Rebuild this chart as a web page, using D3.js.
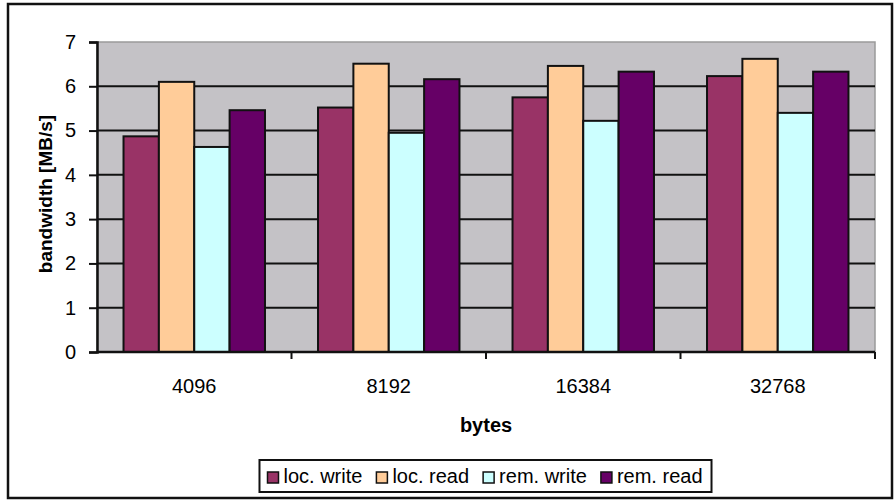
<!DOCTYPE html>
<html>
<head>
<meta charset="utf-8">
<script src="https://cdn.jsdelivr.net/npm/d3@7"></script>
<style>
  html, body { margin: 0; padding: 0; background: #fff; }
  svg text { font-family: "Liberation Sans", Arial, sans-serif; fill: #000; }
</style>
</head>
<body>
<svg id="chart" width="894" height="501"></svg>
<script>
// Transfer sizes (bytes) on the x axis
const categories = ["4096", "8192", "16384", "32768"];
// Series names and their bandwidth values in MB/s
const seriesNames = ["loc. write", "loc. read", "rem. write", "rem. read"];
const locWrite = [4.87, 5.52, 5.75, 6.23];
const locRead  = [6.10, 6.51, 6.46, 6.62];
const remWrite = [4.63, 4.95, 5.22, 5.40];
const remRead  = [5.46, 6.16, 6.33, 6.33];
const yTicks = [0, 1, 2, 3, 4, 5, 6, 7];
const colors = ["#993366", "#ffcc99", "#ccffff", "#660066"];

const seriesValues = [locWrite, locRead, remWrite, remRead];

const svg = d3.select("#chart");
const plot = { left: 97, right: 875, top: 42, bottom: 352 };

// Outer chart frame
svg.append("rect")
  .attr("x", 8).attr("y", 4)
  .attr("width", 884).attr("height", 494)
  .attr("fill", "#fff").attr("stroke", "#111").attr("stroke-width", 2.5);

const x0 = d3.scaleBand().domain(categories).range([plot.left, plot.right]).paddingInner(0).paddingOuter(0);
// Gap width of 150% between groups: 0.75 bar width on each side of a group
const x1 = d3.scaleBand().domain(d3.range(seriesNames.length))
  .range([0, x0.bandwidth()]).paddingInner(0).paddingOuter(0.75);
const y = d3.scaleLinear().domain([0, 7]).range([plot.bottom, plot.top]);

// Plot area background
svg.append("rect")
  .attr("x", plot.left).attr("y", plot.top)
  .attr("width", plot.right - plot.left).attr("height", plot.bottom - plot.top)
  .attr("fill", "#c4c2c6").attr("stroke", "#9a9a9a").attr("stroke-width", 1.5);

// Horizontal gridlines
svg.append("g").selectAll("line")
  .data(yTicks.filter(d => d > 0 && d < 7))
  .join("line")
  .attr("x1", plot.left).attr("x2", plot.right)
  .attr("y1", d => y(d)).attr("y2", d => y(d))
  .attr("stroke", "#111").attr("stroke-width", 2);

// Bars
const groups = svg.append("g").selectAll("g")
  .data(categories)
  .join("g")
  .attr("transform", d => `translate(${x0(d)},0)`);

groups.selectAll("rect")
  .data((c, ci) => seriesValues.map((vals, si) => ({ si, v: vals[ci] })))
  .join("rect")
  .attr("x", d => x1(d.si))
  .attr("width", x1.bandwidth())
  .attr("y", d => y(d.v))
  .attr("height", d => y(0) - y(d.v))
  .attr("fill", d => colors[d.si])
  .attr("stroke", "#111").attr("stroke-width", 2);

// Y axis
const yAxis = d3.axisLeft(y).tickValues(yTicks).tickSize(8).tickPadding(13).tickFormat(d3.format("d"));
const gy = svg.append("g").attr("transform", `translate(${plot.left},0)`).call(yAxis);
gy.select(".domain").attr("stroke", "#111").attr("stroke-width", 2.5);
gy.selectAll(".tick line").attr("stroke", "#111").attr("stroke-width", 2);
gy.selectAll(".tick text").attr("font-size", 20).attr("fill", "#111")
  .attr("font-family", "'Liberation Sans', Arial, sans-serif");

// X axis: tick marks at group boundaries, labels centred under each group
const gx = svg.append("g").attr("transform", `translate(0,${plot.bottom})`);
gx.append("line")
  .attr("x1", plot.left).attr("x2", plot.right)
  .attr("stroke", "#111").attr("stroke-width", 2.5);
gx.selectAll("line.tk")
  .data(categories)
  .join("line").attr("class", "tk")
  .attr("x1", d => x0(d) + x0.bandwidth()).attr("x2", d => x0(d) + x0.bandwidth())
  .attr("y1", 0).attr("y2", 7)
  .attr("stroke", "#111").attr("stroke-width", 2);
gx.selectAll("text")
  .data(categories)
  .join("text")
  .attr("x", d => x0(d) + x0.bandwidth() / 2)
  .attr("y", 41)
  .attr("text-anchor", "middle")
  .attr("font-size", 20)
  .text(d => d);

// Axis titles
svg.append("text")
  .attr("x", (plot.left + plot.right) / 2)
  .attr("y", 432)
  .attr("text-anchor", "middle")
  .attr("font-size", 20).attr("font-weight", "bold")
  .text("bytes");

svg.append("text")
  .attr("transform", `translate(52,${(plot.top + plot.bottom) / 2 - 3}) rotate(-90)`)
  .attr("text-anchor", "middle")
  .attr("font-size", 19).attr("font-weight", "bold")
  .text("bandwidth [MB/s]");

// Legend
const legend = svg.append("g");
const legendBox = legend.append("rect")
  .attr("fill", "#fff").attr("stroke", "#111").attr("stroke-width", 2);
let cx = 0;
seriesNames.forEach((name, i) => {
  const g = legend.append("g").attr("transform", `translate(${cx},0)`);
  g.append("rect")
    .attr("x", 0).attr("y", -11).attr("width", 11).attr("height", 11)
    .attr("fill", colors[i]).attr("stroke", "#111").attr("stroke-width", 1.5);
  const t = g.append("text").attr("x", 16).attr("y", 0).attr("font-size", 20).text(name);
  const w = t.node().getComputedTextLength();
  cx += 16 + w + 14;
});
const contentW = cx - 14;
const lx = (plot.left + plot.right) / 2 - 1 - contentW / 2;
legend.attr("transform", `translate(${lx},483)`);
legendBox.attr("x", -8).attr("y", -23).attr("width", contentW + 17).attr("height", 32);
</script>
</body>
</html>
